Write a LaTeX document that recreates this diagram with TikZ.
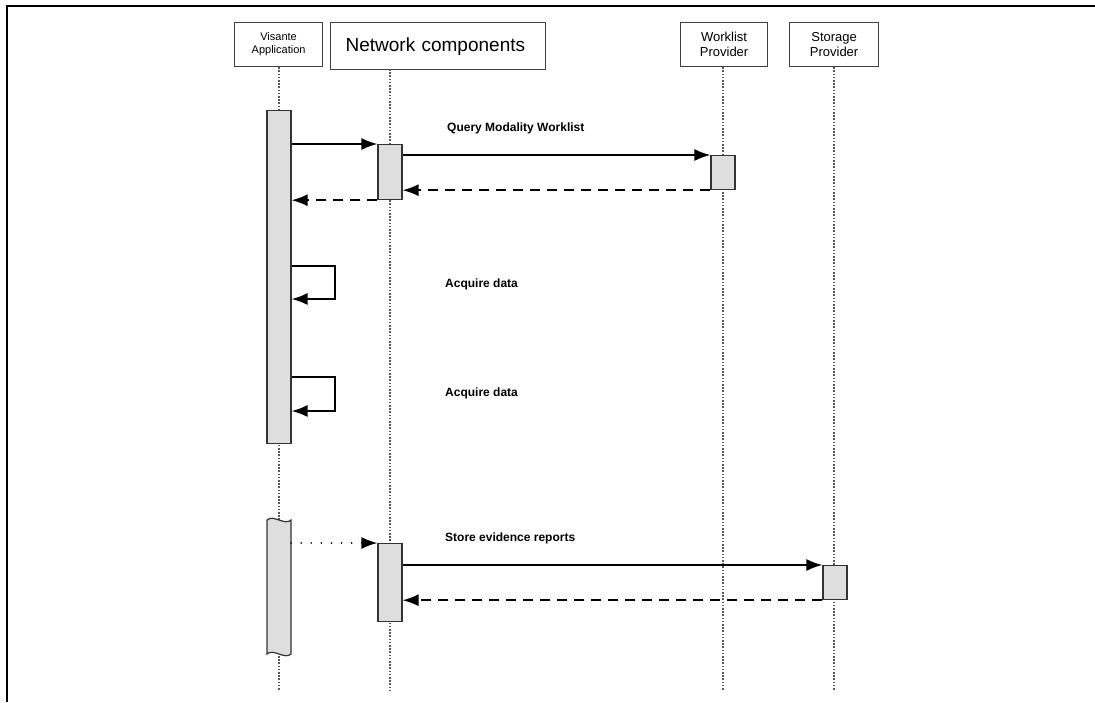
\documentclass[tikz,border=0pt]{standalone}
\usepackage{fontspec}
\setmainfont{Liberation Sans}
\usetikzlibrary{arrows.meta}

\tikzset{
  headbox/.style={draw=black!75, line width=1.2pt, fill=white, inner sep=0pt,
    align=center, anchor=north west},
  lifeline/.style={draw=black!65, line width=1.4pt, dash pattern=on 1.6pt off 1.6pt},
  actbar/.style={draw=black!80, line width=1.2pt, fill=black!13, inner sep=0pt,
    minimum width=24pt, anchor=north},
  msg/.style={draw=black, line width=1.6pt, -{Latex[length=16pt,width=12pt]}},
  reply/.style={msg, dash pattern=on 10pt off 7pt},
  async/.style={msg, line cap=round, dash pattern=on 0.1pt off 10pt},
  msglabel/.style={font=\fontsize{12}{14}\selectfont\bfseries, anchor=west, inner sep=0pt},
}

\begin{document}
\begin{tikzpicture}[x=1pt, y=-1pt]
\useasboundingbox (0,0) rectangle (1095,702);

% page frame
\draw[line width=2.5pt] (1095,6) -- (7,6) -- (7,702);

% participants
\node[headbox, minimum width=88pt, minimum height=44pt, font=\fontsize{11}{13}\selectfont]
  (vis) at (234,22) {Visante\\Application};
\node[headbox, minimum width=215pt, minimum height=47pt, font=\fontsize{19}{23}\selectfont,
  align=left, text width=185pt]
  (net) at (330,22) {Network components};
\node[headbox, minimum width=87pt, minimum height=44pt, font=\fontsize{13}{15.5}\selectfont]
  (wl) at (680,22) {Worklist\\Provider};
\node[headbox, minimum width=89pt, minimum height=44pt, font=\fontsize{13}{15.5}\selectfont]
  (st) at (789,22) {Storage\\Provider};

% lifelines
\coordinate (netx) at (390,69);
\coordinate (visEnd) at (279,690);
\coordinate (netEnd) at (390,690);
\coordinate (wlEnd) at (723,690);
\coordinate (stEnd) at (834,690);
\draw[lifeline] (vis.south -| visEnd) -- (visEnd);
\draw[lifeline] (netx) -- (netEnd);
\draw[lifeline] (wl.south -| wlEnd) -- (wlEnd);
\draw[lifeline] (st.south -| stEnd) -- (stEnd);

% activation bars
\node[actbar, minimum height=333pt] (vbar) at (279,110) {};
\node[actbar, minimum height=55pt] (nbar1) at (390,144) {};
\node[actbar, minimum height=34pt] (wbar) at (723,155) {};
\node[actbar, minimum height=78pt] (nbar2) at (390,543) {};
\node[actbar, minimum height=34pt] (sbar) at (835,565) {};

% broken activation of the application
\coordinate (vb2tl) at (267,520);
\coordinate (vb2tr) at (291,520);
\coordinate (vb2br) at (291,654);
\coordinate (vb2bl) at (267,654);
\draw[draw=black!80, line width=1.2pt, fill=black!13]
  (vb2tl) .. controls (273,514) and (285,526) .. (vb2tr) -- (vb2br)
  .. controls (285,660) and (273,648) .. (vb2bl) -- cycle;

% query worklist
\draw[msg] (vbar.east |- nbar1.north) -- (nbar1.north west);
\draw[msg] (nbar1.east |- wbar.north) -- (wbar.north west);
\node[msglabel] (lq) at (447,128) {Query Modality Worklist};
\draw[reply] (wbar.south west) -- (nbar1.east |- wbar.south);
\draw[reply] (nbar1.south west) -- (vbar.east |- nbar1.south);

% acquisitions
\coordinate (a1) at (335,266);
\coordinate (a1r) at (335,299);
\draw[msg] (vbar.east |- a1) -- (a1) -- (a1r) -- (vbar.east |- a1r);
\node[msglabel] (la1) at (445,284) {Acquire data};
\coordinate (a2) at (335,377);
\coordinate (a2r) at (335,411);
\draw[msg] (vbar.east |- a2) -- (a2) -- (a2r) -- (vbar.east |- a2r);
\node[msglabel] (la2) at (445,393) {Acquire data};

% storage
\draw[async] (vb2tr |- nbar2.north) -- (nbar2.north west);
\node[msglabel] (ls) at (445,538) {Store evidence reports};
\draw[msg] (nbar2.east |- sbar.north) -- (sbar.north west);
\draw[reply] (sbar.south west) -- (nbar2.east |- sbar.south);
\end{tikzpicture}
\end{document}
